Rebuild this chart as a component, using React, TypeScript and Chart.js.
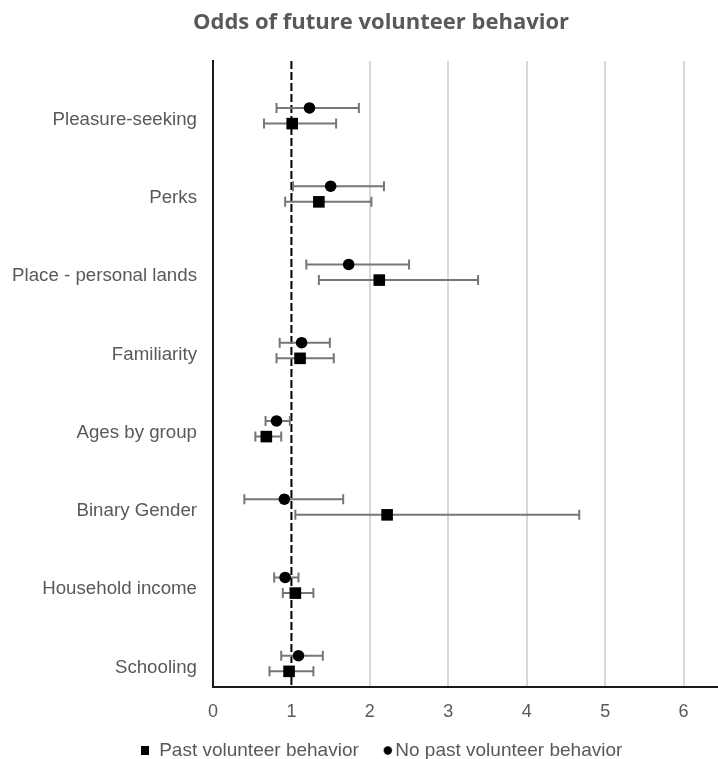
import React, { useEffect, useRef } from 'react';
import { Chart, registerables } from 'chart.js';

Chart.register(...registerables);

const TITLE = 'Odds of future volunteer behavior';
const CATEGORIES = [
  'Pleasure-seeking',
  'Perks',
  'Place - personal lands',
  'Familiarity',
  'Ages by group',
  'Binary Gender',
  'Household income',
  'Schooling',
];
const SERIES_LABELS = ['Past volunteer behavior', 'No past volunteer behavior'];

const PAST_ODDS = [1.01, 1.35, 2.12, 1.11, 0.68, 2.22, 1.05, 0.97];
const PAST_LOW = [0.65, 0.92, 1.35, 0.81, 0.54, 1.05, 0.89, 0.72];
const PAST_HIGH = [1.57, 2.02, 3.38, 1.54, 0.87, 4.67, 1.28, 1.28];

const NOPAST_ODDS = [1.23, 1.5, 1.73, 1.13, 0.81, 0.91, 0.92, 1.09];
const NOPAST_LOW = [0.81, 1.02, 1.19, 0.85, 0.67, 0.4, 0.78, 0.87];
const NOPAST_HIGH = [1.86, 2.18, 2.5, 1.49, 0.98, 1.66, 1.09, 1.4];

const X_TICKS = [0, 1, 2, 3, 4, 5, 6];
const X_MIN = 0;
const X_MAX = 7;
const REFERENCE_ODDS = 1;

// vertical offsets of the two series within a category row
const PAST_OFFSET = 0.05;
const NOPAST_OFFSET = -0.15;

const W = 762;
const H = 770;
const FONT = "'Liberation Sans', Arial, sans-serif";

function makeSquare(): HTMLCanvasElement {
  const c = document.createElement('canvas');
  c.width = 8;
  c.height = 9;
  const g = c.getContext('2d')!;
  g.fillStyle = '#000';
  g.fillRect(0, 0, 8, 9);
  return c;
}

function makeCircle(): HTMLCanvasElement {
  const c = document.createElement('canvas');
  c.width = 26;
  c.height = 9;
  const g = c.getContext('2d')!;
  g.fillStyle = '#000';
  g.beginPath();
  g.arc(20, 4.5, 4.2, 0, Math.PI * 2);
  g.fill();
  return c;
}

const refLinePlugin = {
  id: 'refLine',
  beforeDatasetsDraw(chart: any) {
    const { ctx, chartArea, scales } = chart;
    const x = scales.x.getPixelForValue(REFERENCE_ODDS);
    ctx.save();
    ctx.strokeStyle = '#000';
    ctx.lineWidth = 2;
    ctx.setLineDash([8, 3]);
    ctx.beginPath();
    ctx.moveTo(x, chartArea.top);
    ctx.lineTo(x, chartArea.bottom);
    ctx.stroke();
    ctx.restore();
  },
};

const errorBarPlugin = {
  id: 'errorBars',
  beforeDatasetsDraw(chart: any) {
    const { ctx, scales } = chart;
    chart.data.datasets.forEach((ds: any) => {
      const lows: number[] = ds.errLow;
      const highs: number[] = ds.errHigh;
      if (!lows) return;
      ds.data.forEach((p: any, i: number) => {
        const y = scales.y.getPixelForValue(p.y);
        const x1 = scales.x.getPixelForValue(lows[i]);
        const x2 = scales.x.getPixelForValue(highs[i]);
        ctx.save();
        ctx.strokeStyle = '#767676';
        ctx.lineWidth = 2;
        ctx.beginPath();
        ctx.moveTo(x1, y);
        ctx.lineTo(x2, y);
        ctx.moveTo(x1, y - 5);
        ctx.lineTo(x1, y + 5);
        ctx.moveTo(x2, y - 5);
        ctx.lineTo(x2, y + 5);
        ctx.stroke();
        ctx.restore();
      });
    });
  },
};

export default function App() {
  const ref = useRef<HTMLCanvasElement | null>(null);

  useEffect(() => {
    if (!ref.current) return;
    const squareImg = makeSquare();
    const circleImg = makeCircle();

    const chart = new Chart(ref.current, {
      type: 'scatter',
      data: {
        datasets: [
          {
            label: SERIES_LABELS[0],
            data: PAST_ODDS.map((v, i) => ({ x: v, y: i + PAST_OFFSET })),
            errLow: PAST_LOW,
            errHigh: PAST_HIGH,
            pointStyle: 'rect',
            pointRadius: 8.2,
            backgroundColor: '#000',
            borderColor: '#000',
            borderWidth: 0,
          } as any,
          {
            label: SERIES_LABELS[1],
            data: NOPAST_ODDS.map((v, i) => ({ x: v, y: i + NOPAST_OFFSET })),
            errLow: NOPAST_LOW,
            errHigh: NOPAST_HIGH,
            pointStyle: 'circle',
            pointRadius: 5.8,
            backgroundColor: '#000',
            borderColor: '#000',
            borderWidth: 0,
          } as any,
        ],
      },
      options: {
        responsive: false,
        animation: false,
        devicePixelRatio: 1,
        layout: { padding: 0, autoPadding: false },
        font: { family: FONT },
        scales: {
          x: {
            type: 'linear',
            min: X_MIN,
            max: X_MAX,
            afterBuildTicks: (axis: any) => {
              axis.ticks = X_TICKS.map((v) => ({ value: v }));
            },
            afterFit: (axis: any) => {
              axis.height = 37;
              axis.paddingLeft = 0;
              axis.paddingRight = 0;
            },
            ticks: {
              padding: 14,
              color: '#595959',
              font: { family: FONT, size: 18 },
            },
            grid: {
              drawTicks: false,
              lineWidth: 2,
              color: (c: any) =>
                c.tick && (c.tick.value === X_MIN || c.tick.value === REFERENCE_ODDS)
                  ? 'rgba(0,0,0,0)'
                  : '#d9d9d9',
            },
            border: { display: true, color: '#1a1a1a', width: 2 },
          },
          y: {
            type: 'linear',
            reverse: true,
            min: -0.75,
            max: CATEGORIES.length - 0.75,
            afterBuildTicks: (axis: any) => {
              axis.ticks = CATEGORIES.map((_, i) => ({ value: i }));
            },
            afterFit: (axis: any) => {
              axis.width = 213;
              axis.paddingTop = 0;
              axis.paddingBottom = 0;
            },
            ticks: {
              padding: 16,
              color: '#595959',
              font: { family: FONT, size: 18.7 },
              callback: (v: any) => CATEGORIES[Math.round(Number(v))] ?? '',
            },
            grid: { display: false, drawTicks: false },
            border: { display: true, color: '#1a1a1a', width: 2 },
          },
        },
        plugins: {
          title: {
            display: true,
            text: TITLE,
            color: '#595959',
            font: { family: "'Open Sans', sans-serif", size: 22, weight: 'bold' },
            padding: { top: 10, bottom: 24.6 },
          },
          legend: {
            display: true,
            position: 'bottom',
            labels: {
              usePointStyle: true,
              boxWidth: 10,
              boxHeight: 10,
              padding: 17,
              color: '#595959',
              font: { family: FONT, size: 19 },
              generateLabels: () => [
                {
                  text: SERIES_LABELS[0],
                  pointStyle: squareImg,
                  fillStyle: '#000',
                  strokeStyle: '#000',
                  lineWidth: 0,
                  hidden: false,
                  datasetIndex: 0,
                  fontColor: '#595959',
                },
                {
                  text: SERIES_LABELS[1],
                  pointStyle: circleImg,
                  fillStyle: '#000',
                  strokeStyle: '#000',
                  lineWidth: 0,
                  hidden: false,
                  datasetIndex: 1,
                  fontColor: '#595959',
                },
              ],
            },
          },
          tooltip: { enabled: false },
        },
      } as any,
      plugins: [refLinePlugin, errorBarPlugin],
    });
    return () => chart.destroy();
  }, []);

  return (
    <div
      style={{
        position: 'fixed',
        left: 0,
        top: 0,
        width: W,
        height: H,
        background: '#fff',
      }}
    >
      <canvas ref={ref} width={W} height={H} style={{ width: W, height: H, display: 'block' }} />
    </div>
  );
}
